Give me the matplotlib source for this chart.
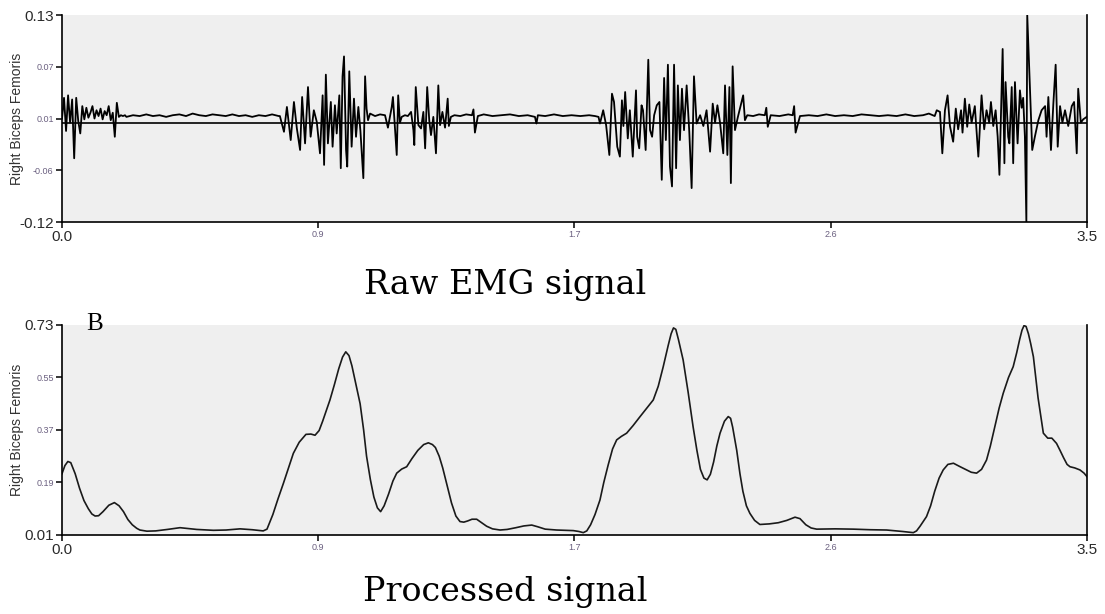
import numpy as np
import matplotlib.pyplot as plt

plt.rcParams['font.family'] = ['Liberation Sans', 'DejaVu Sans']

# ---- raw EMG (time s, amplitude) ----
start_t = np.linspace(0.0, 0.215, 32)
start_v = [0.005, 0.030, -0.010, 0.033, 0.000, 0.028, -0.043, 0.030, 0.002, -0.013,
           0.020, 0.004, 0.018, 0.006, 0.012, 0.020, 0.005, 0.015, 0.008, 0.017,
           0.004, 0.014, 0.009, 0.020, 0.003, 0.012, -0.017, 0.024, 0.007, 0.009,
           0.008, 0.009]

quiet1_t = np.linspace(0.22, 0.74, 24)
quiet1_v = [0.007, 0.009, 0.008, 0.010, 0.008, 0.009, 0.007, 0.009, 0.010, 0.008,
            0.011, 0.009, 0.008, 0.010, 0.009, 0.008, 0.010, 0.008, 0.009, 0.007,
            0.009, 0.008, 0.010, 0.008]

burst1_t = [0.744, 0.758, 0.768, 0.781, 0.792, 0.802, 0.813, 0.820, 0.830, 0.840,
            0.849, 0.860, 0.870, 0.881, 0.890, 0.895, 0.901, 0.908, 0.918, 0.924,
            0.932, 0.938, 0.947, 0.952, 0.958, 0.963, 0.970, 0.974, 0.981, 0.989,
            0.997, 1.004, 1.012, 1.019, 1.029, 1.035, 1.040, 1.045, 1.052, 1.069,
            1.086, 1.103, 1.113, 1.126, 1.130, 1.137, 1.143, 1.148, 1.154, 1.160,
            1.171, 1.181, 1.192, 1.200, 1.203, 1.208, 1.217, 1.226, 1.234, 1.240,
            1.247, 1.254, 1.260, 1.268, 1.277, 1.285, 1.291, 1.299, 1.308, 1.317,
            1.321, 1.328]
burst1_v = [0.008, -0.011, 0.019, -0.021, 0.025, -0.007, -0.033, 0.031, -0.025, 0.043,
            -0.017, 0.015, 0.001, -0.037, 0.033, -0.051, 0.058, -0.025, 0.025, -0.029,
            0.021, -0.013, 0.033, -0.055, 0.056, 0.080, -0.033, -0.053, 0.062, -0.029,
            0.029, -0.017, 0.019, -0.010, -0.067, 0.056, 0.017, 0.003, 0.011, 0.008,
            0.010, 0.009, -0.006, 0.019, 0.031, -0.006, -0.039, 0.033, 0.000, 0.007,
            0.009, 0.008, 0.013, -0.009, -0.027, 0.043, -0.003, -0.007, 0.013, -0.031,
            0.043, 0.003, -0.015, 0.007, -0.037, 0.045, -0.003, 0.013, -0.006, 0.029,
            -0.004, 0.007]

quiet2_t = [1.34, 1.36, 1.38, 1.40, 1.405, 1.41, 1.42, 1.44, 1.47, 1.50, 1.53, 1.56,
            1.59, 1.615, 1.62, 1.625, 1.65, 1.68, 1.71, 1.74, 1.77, 1.80, 1.82, 1.832]
quiet2_v = [0.009, 0.008, 0.010, 0.009, 0.016, -0.012, 0.008, 0.010, 0.008, 0.009,
            0.010, 0.008, 0.009, 0.007, -0.001, 0.009, 0.008, 0.010, 0.008, 0.009,
            0.008, 0.009, 0.008, 0.007]

burst2_t = [1.837, 1.848, 1.858, 1.869, 1.878, 1.885, 1.896, 1.905, 1.912, 1.917,
            1.923, 1.932, 1.939, 1.949, 1.960, 1.964, 1.971, 1.979, 1.984, 1.993,
            2.002, 2.008, 2.015, 2.022, 2.031, 2.040, 2.048, 2.056, 2.062, 2.069,
            2.076, 2.083, 2.090, 2.097, 2.103, 2.110, 2.117, 2.124, 2.133, 2.142,
            2.150, 2.158, 2.167, 2.179, 2.190, 2.201, 2.213, 2.222, 2.230, 2.238,
            2.247, 2.258, 2.264, 2.272, 2.279, 2.284, 2.290, 2.298, 2.308, 2.326,
            2.332]
burst2_v = [-0.001, 0.015, -0.003, -0.039, 0.035, 0.025, -0.029, -0.041, 0.027, -0.004,
            0.037, -0.019, 0.015, -0.041, 0.039, -0.017, -0.031, 0.021, 0.015, -0.033,
            0.076, -0.009, -0.017, 0.009, 0.021, 0.025, -0.069, 0.054, -0.021, 0.070,
            -0.053, -0.077, 0.070, -0.055, 0.045, -0.021, 0.041, -0.009, 0.045, -0.011,
            -0.079, 0.056, -0.001, 0.009, -0.004, 0.015, -0.035, 0.023, 0.000, 0.021,
            0.000, -0.037, 0.045, -0.039, 0.043, -0.073, 0.068, -0.009, 0.007, 0.033,
            0.003]

quiet3_t = [2.34, 2.36, 2.38, 2.40, 2.405, 2.41, 2.42, 2.45, 2.48, 2.495, 2.50, 2.505,
            2.52, 2.55, 2.58, 2.61, 2.64, 2.67, 2.70, 2.73, 2.76, 2.79, 2.82, 2.85,
            2.88, 2.91, 2.94, 2.96, 2.98]
quiet3_v = [0.009, 0.008, 0.010, 0.009, 0.018, -0.005, 0.009, 0.008, 0.010, 0.009,
            0.020, -0.012, 0.008, 0.009, 0.008, 0.010, 0.008, 0.009, 0.008, 0.010,
            0.009, 0.008, 0.009, 0.008, 0.010, 0.008, 0.009, 0.011, 0.008]

burst3_t = [2.987, 2.998, 3.006, 3.015, 3.024, 3.032, 3.043, 3.052, 3.060, 3.070,
            3.075, 3.083, 3.091, 3.098, 3.106, 3.117, 3.129, 3.140, 3.149, 3.157,
            3.166, 3.172, 3.180, 3.188, 3.195, 3.201, 3.212, 3.218, 3.222, 3.231,
            3.235, 3.243, 3.248, 3.254, 3.263, 3.271, 3.277, 3.282, 3.288, 3.293,
            3.296, 3.305, 3.313, 3.322, 3.334, 3.345, 3.357, 3.362, 3.368, 3.377,
            3.385, 3.393, 3.400, 3.408, 3.416, 3.425, 3.436, 3.448, 3.456, 3.465,
            3.470, 3.479, 3.487, 3.499]
burst3_v = [0.015, 0.013, -0.037, 0.015, 0.033, -0.004, -0.023, 0.017, -0.008, 0.015,
            -0.012, 0.029, -0.005, 0.022, 0.000, 0.020, -0.041, 0.033, -0.008, 0.015,
            0.000, 0.025, -0.004, 0.015, -0.017, -0.063, 0.089, -0.049, 0.049, -0.017,
            -0.025, 0.043, -0.049, 0.049, -0.025, 0.039, 0.018, 0.030, -0.017, -0.120,
            0.130, 0.043, -0.033, -0.017, 0.003, 0.015, 0.020, -0.017, 0.031, -0.033,
            0.022, 0.070, -0.029, 0.020, 0.000, 0.015, -0.004, 0.020, 0.025, -0.037,
            0.041, 0.000, 0.004, 0.007]

# ---- processed (smoothed envelope) ----
proc_t = [0.000, 0.010, 0.020, 0.030, 0.045, 0.060, 0.075, 0.090, 0.102, 0.113,
          0.125, 0.140, 0.160, 0.179, 0.195, 0.210, 0.225, 0.240, 0.255, 0.266,
          0.290, 0.320, 0.360, 0.403, 0.460, 0.517, 0.560, 0.608, 0.650, 0.687,
          0.700, 0.720, 0.738, 0.756, 0.775, 0.790, 0.810, 0.833, 0.850, 0.864,
          0.878, 0.890, 0.915, 0.930, 0.945, 0.958, 0.969, 0.980, 0.990, 1.003,
          1.018, 1.030, 1.040, 1.053, 1.065, 1.077, 1.088, 1.100, 1.115, 1.130,
          1.143, 1.160, 1.177, 1.195, 1.215, 1.235, 1.251, 1.265, 1.275, 1.288,
          1.300, 1.315, 1.330, 1.345, 1.359, 1.372, 1.385, 1.400, 1.416, 1.433,
          1.450, 1.470, 1.496, 1.520, 1.550, 1.577, 1.604, 1.625, 1.650, 1.689,
          1.746, 1.765, 1.780, 1.792, 1.805, 1.820, 1.837, 1.850, 1.865, 1.880,
          1.894, 1.910, 1.928, 1.950, 1.974, 1.997, 2.019, 2.036, 2.053, 2.070,
          2.080, 2.088, 2.096, 2.105, 2.121, 2.138, 2.155, 2.168, 2.180, 2.192,
          2.203, 2.214, 2.225, 2.236, 2.247, 2.262, 2.275, 2.283, 2.290, 2.304,
          2.315, 2.325, 2.337, 2.349, 2.365, 2.383, 2.415, 2.446, 2.475, 2.503,
          2.520, 2.540, 2.558, 2.577, 2.640, 2.702, 2.760, 2.816, 2.870, 2.907,
          2.918, 2.930, 2.940, 2.952, 2.966, 2.980, 2.995, 3.009, 3.025, 3.044,
          3.065, 3.085, 3.105, 3.123, 3.140, 3.157, 3.170, 3.185, 3.200, 3.214,
          3.232, 3.248, 3.260, 3.270, 3.278, 3.285, 3.292, 3.300, 3.308, 3.317,
          3.333, 3.351, 3.366, 3.380, 3.396, 3.408, 3.420, 3.432, 3.442, 3.458,
          3.476, 3.490, 3.500]
proc_v = [0.220, 0.248, 0.262, 0.258, 0.220, 0.170, 0.128, 0.100, 0.082, 0.075,
          0.076, 0.090, 0.112, 0.121, 0.110, 0.090, 0.063, 0.045, 0.033, 0.027,
          0.023, 0.024, 0.029, 0.035, 0.029, 0.026, 0.027, 0.031, 0.028, 0.024,
          0.030, 0.080, 0.135, 0.187, 0.245, 0.290, 0.328, 0.355, 0.356, 0.352,
          0.368, 0.400, 0.473, 0.525, 0.580, 0.620, 0.638, 0.625, 0.590, 0.530,
          0.460, 0.370, 0.280, 0.200, 0.140, 0.103, 0.090, 0.110, 0.150, 0.195,
          0.222, 0.236, 0.244, 0.272, 0.300, 0.320, 0.326, 0.320, 0.310, 0.280,
          0.240, 0.180, 0.120, 0.075, 0.056, 0.054, 0.058, 0.064, 0.064, 0.052,
          0.040, 0.031, 0.027, 0.029, 0.035, 0.041, 0.044, 0.038, 0.030, 0.027,
          0.025, 0.022, 0.018, 0.024, 0.045, 0.080, 0.130, 0.190, 0.250, 0.305,
          0.336, 0.348, 0.359, 0.385, 0.416, 0.445, 0.473, 0.520, 0.587, 0.660,
          0.700, 0.720, 0.715, 0.680, 0.610, 0.500, 0.381, 0.300, 0.235, 0.205,
          0.199, 0.218, 0.260, 0.315, 0.359, 0.400, 0.416, 0.410, 0.380, 0.300,
          0.220, 0.160, 0.110, 0.084, 0.060, 0.046, 0.048, 0.052, 0.060, 0.071,
          0.066, 0.045, 0.034, 0.030, 0.031, 0.030, 0.028, 0.027, 0.022, 0.018,
          0.024, 0.040, 0.055, 0.073, 0.110, 0.160, 0.205, 0.233, 0.252, 0.256,
          0.245, 0.235, 0.225, 0.222, 0.235, 0.267, 0.315, 0.380, 0.445, 0.496,
          0.550, 0.587, 0.635, 0.680, 0.712, 0.728, 0.725, 0.700, 0.665, 0.621,
          0.480, 0.359, 0.342, 0.342, 0.324, 0.300, 0.275, 0.252, 0.244, 0.240,
          0.233, 0.222, 0.210]

x_labels = ['0.0', '0.9', '1.7', '2.6', '3.5']
raw_ylabels = ['-0.12', '-0.06', '0.01', '0.07', '0.13']
proc_ylabels = ['0.01', '0.19', '0.37', '0.55', '0.73']

raw_t = np.concatenate([start_t, quiet1_t, burst1_t, quiet2_t, burst2_t, quiet3_t, burst3_t])
raw_v = np.concatenate([start_v, quiet1_v, burst1_v, quiet2_v, burst2_v, quiet3_v, burst3_v])


def style_axes(ax, ylim, ylabels):
    ax.set_facecolor('#efefef')
    ax.set_xlim(0, 3.5)
    ax.set_ylim(*ylim)
    ax.spines['top'].set_visible(False)
    for s in ['left', 'bottom', 'right']:
        ax.spines[s].set_color('black')
        ax.spines[s].set_linewidth(1.2)
    ax.set_xticks(np.linspace(0, 3.5, 5), x_labels)
    ax.set_yticks(np.linspace(ylim[0], ylim[1], 5), ylabels)
    ax.tick_params(length=4, width=1.1, pad=2)
    # end labels are big, middle ones tiny
    for labels in [ax.get_xticklabels(), ax.get_yticklabels()]:
        for i, lab in enumerate(labels):
            if i in (0, 4):
                lab.set_fontsize(11)
                lab.set_color('#2a2a2a')
            else:
                lab.set_fontsize(6.5)
                lab.set_color('#6b6080')
    ax.set_ylabel('Right Biceps Femoris', fontsize=10, color='#333333')
    ax.yaxis.set_label_coords(-0.037, 0.5)


fig = plt.figure(figsize=(11.05, 6.14), dpi=100)

ax1 = fig.add_axes([0.0561, 0.6384, 0.9276, 0.3371])
ax1.axhline(0, color='black', lw=1.2)
ax1.plot(raw_t, raw_v, color='black', lw=1.3)
style_axes(ax1, (-0.12, 0.13), raw_ylabels)

ax2 = fig.add_axes([0.0561, 0.1287, 0.9276, 0.3420])
ax2.plot(proc_t, proc_v, color='#1a1a1a', lw=1.2)
style_axes(ax2, (0.01, 0.73), proc_ylabels)

fig.text(0.457, 0.536, 'Raw EMG signal', family='DejaVu Serif', fontsize=24,
         ha='center', va='center')
fig.text(0.457, 0.036, 'Processed signal', family='DejaVu Serif', fontsize=24,
         ha='center', va='center')
fig.text(0.078, 0.473, 'B', family='Liberation Serif', fontsize=18,
         ha='left', va='center')

fig.savefig('out.png', dpi=100)
